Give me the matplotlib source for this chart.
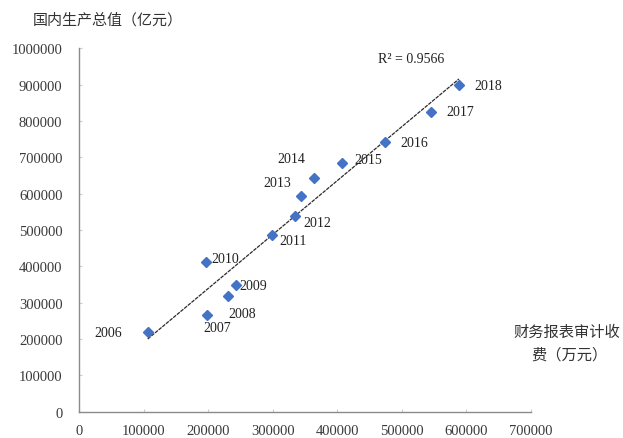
import matplotlib
matplotlib.use("Agg")
import matplotlib.pyplot as plt
import numpy as np

# audit fees (10k yuan) vs GDP (100m yuan), 2006-2018
years = ["2006", "2007", "2008", "2009", "2010", "2011", "2012",
         "2013", "2014", "2015", "2016", "2017", "2018"]
audit_fee = [106300, 197700, 230200, 242600, 196100, 298800, 334500,
             344100, 363300, 407100, 474800, 546000, 588700]
gdp = [218100, 265700, 318700, 348000, 412100, 486300, 538500,
       593400, 642000, 685000, 741700, 824000, 897500]
r2_text = "R² = 0.9566"

# label offsets in pixels from each marker
label_dx = [-40, 11, 15, 18, 20, 21, 22, -24, -22, 26, 29, 29, 29]
label_dy = [0, -12, -18, 0, 3, -6, -7, 13, 20, 3, 0, 1, 0]

serif = "Liberation Serif"
cjk = ["Noto Sans CJK SC", "DejaVu Sans"]

fig = plt.figure(figsize=(6.23, 4.39), dpi=100)
ax = fig.add_axes([0.127, 0.060, 0.725, 0.828])

ax.plot(audit_fee, gdp, linestyle="none", marker="D", markersize=5.6,
        color="#4472C4", zorder=3)

# linear trend line across the data range
k, b = np.polyfit(audit_fee, gdp, 1)
xs = np.array([min(audit_fee), max(audit_fee)])
ax.plot(xs, k * xs + b, color="#2b2b2b", lw=0.9, linestyle=(0, (3, 0.8)), zorder=2)

for yr, x, y, dx, dy in zip(years, audit_fee, gdp, label_dx, label_dy):
    ax.annotate(yr, (x, y), xytext=(dx, dy), textcoords="offset pixels",
                ha="center", va="center", fontsize=10, family=serif,
                color="#222222")

ax.text(514000, 971000, r2_text, ha="center", va="center", fontsize=10,
        family=serif, color="#222222")

ax.set_xlim(0, 700000)
ax.set_ylim(0, 1000000)
ax.set_xticks(np.arange(0, 700001, 100000))
ax.set_yticks(np.arange(0, 1000001, 100000))
ax.ticklabel_format(style="plain")
for lab in ax.get_xticklabels() + ax.get_yticklabels():
    lab.set_family(serif)
    lab.set_fontsize(10.5)
    lab.set_color("#3a3a3a")
ax.tick_params(direction="in", length=2.5, width=0.8, color="#cccccc")
ax.tick_params(axis="y", pad=12)
ax.tick_params(axis="x", pad=9)

for side in ("top", "right"):
    ax.spines[side].set_visible(False)
for side in ("left", "bottom"):
    ax.spines[side].set_color("#8a8a8a")
    ax.spines[side].set_linewidth(1.0)

fig.text(33 / 623, 1 - 20.7 / 439, "国内生产总值（亿元）", ha="left", va="center",
         fontsize=10.8, family=cjk, color="#333333")
fig.text(513 / 623, 1 - 332.7 / 439, "财务报表审计收", ha="left", va="center",
         fontsize=11, family=cjk, color="#333333")
fig.text(531 / 623, 1 - 355 / 439, "费（万元）", ha="left", va="center",
         fontsize=11, family=cjk, color="#333333")

fig.savefig("out.png", dpi=100, facecolor="white")
plt.close(fig)
